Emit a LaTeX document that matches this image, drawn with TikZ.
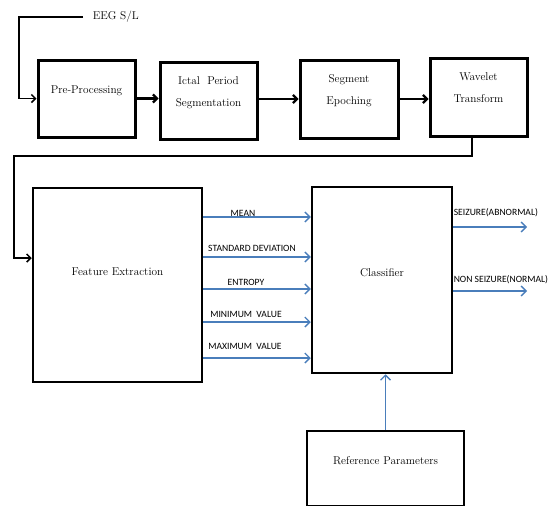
\documentclass[tikz,border=0pt]{standalone}
\usepackage{fontspec}
\usepackage{tikz}
\usetikzlibrary{arrows.meta}
\newfontfamily\lblfont{Carlito}
\definecolor{arrowblue}{RGB}{74,126,187}

\begin{document}
\begin{tikzpicture}[x=1pt, y=-1pt, line width=1.5pt,
	block/.style={draw, line width=3pt, align=center, inner sep=2pt, text depth=18pt,
		font=\fontsize{11.3}{22}\selectfont},
	bigblock/.style={draw, line width=2.5pt, align=center, inner sep=2pt,
		font=\fontsize{11.3}{15}\selectfont},
	link/.style={-{Straight Barb[length=4pt,width=8pt]}},
	feat/.style={draw=arrowblue, line width=1.3pt, -{Straight Barb[length=5pt,width=10pt]}},
	featlbl/.style={font=\lblfont\fontsize{9.6}{11}\selectfont, inner sep=0pt}]

	\useasboundingbox (0,0) rectangle (555,506);

	% top row
	\node[block, minimum width=97pt, minimum height=77pt] (pre) at (86.5,98.5) {Pre-Processing};
	\node[block, minimum width=97pt, minimum height=77pt] (ictal) at (208.5,100.5) {Ictal\ \ Period\\Segmentation};
	\node[block, minimum width=98pt, minimum height=78pt] (epoch) at (349,99) {Segment\\Epoching};
	\node[block, minimum width=97pt, minimum height=78pt] (wavelet) at (478.5,97) {Wavelet\\Transform};

	\node[font=\fontsize{11.3}{13}\selectfont, anchor=west, inner sep=0pt] (eeg) at (92,17) {EEG S/L};
	\coordinate (inbend) at (19,17);
	\draw[link] ([xshift=-9pt]eeg.west) -- (inbend) |- (pre.west);

	\draw[link, line width=2.2pt] (pre.east) -- (pre.east -| ictal.west);
	\draw[link, line width=2.2pt] (ictal.east |- epoch.west) -- (epoch.west);
	\draw[link, line width=2.2pt] (epoch.east) -- (epoch.east -| wavelet.west);

	% lower part
	\node[bigblock, text depth=26pt, minimum width=169pt, minimum height=194pt] (fe) at (117.5,285) {Feature Extraction};
	\node[bigblock, text depth=15pt, minimum width=140pt, minimum height=186pt] (cls) at (382,280) {Classifier};
	\node[bigblock, text depth=15pt, minimum width=157pt, minimum height=75pt] (ref) at (385.5,468.5) {Reference Parameters};

	\coordinate (loopr) at (472,156);
	\coordinate (loopl) at (14,156);
	\draw[link] ([xshift=-6.5pt]wavelet.south) -- (loopr) -- (loopl) |- ([yshift=27pt]fe.west);

	\draw[feat] (fe.east |- 0,217) -- (cls.west |- 0,217);
	\draw[feat] (fe.east |- 0,257) -- (cls.west |- 0,257);
	\draw[feat] (fe.east |- 0,289) -- (cls.west |- 0,289);
	\draw[feat] (fe.east |- 0,322) -- (cls.west |- 0,322);
	\draw[feat] (fe.east |- 0,358) -- (cls.west |- 0,358);

	\node[featlbl] (mean) at (243,213) {MEAN};
	\node[featlbl] (stdev) at (252,248) {STANDARD DEVIATION};
	\node[featlbl] (entropy) at (246,282) {ENTROPY};
	\node[featlbl] (minval) at (246,314) {MINIMUM\ \ VALUE};
	\node[featlbl] (maxval) at (245,346) {MAXIMUM\ \ VALUE};

	\coordinate (seizend) at (527,227);
	\coordinate (normend) at (527,291);
	\draw[feat] (cls.east |- seizend) -- (seizend);
	\draw[feat] (cls.east |- normend) -- (normend);
	\node[featlbl, anchor=west] (seizlbl) at (453,213) {SEIZURE(ABNORMAL)};
	\node[featlbl, anchor=west] (normlbl) at (453,280) {NON SEIZURE(NORMAL)};

	\draw[feat] (ref.north) -- (ref.north |- cls.south);

\end{tikzpicture}
\end{document}
